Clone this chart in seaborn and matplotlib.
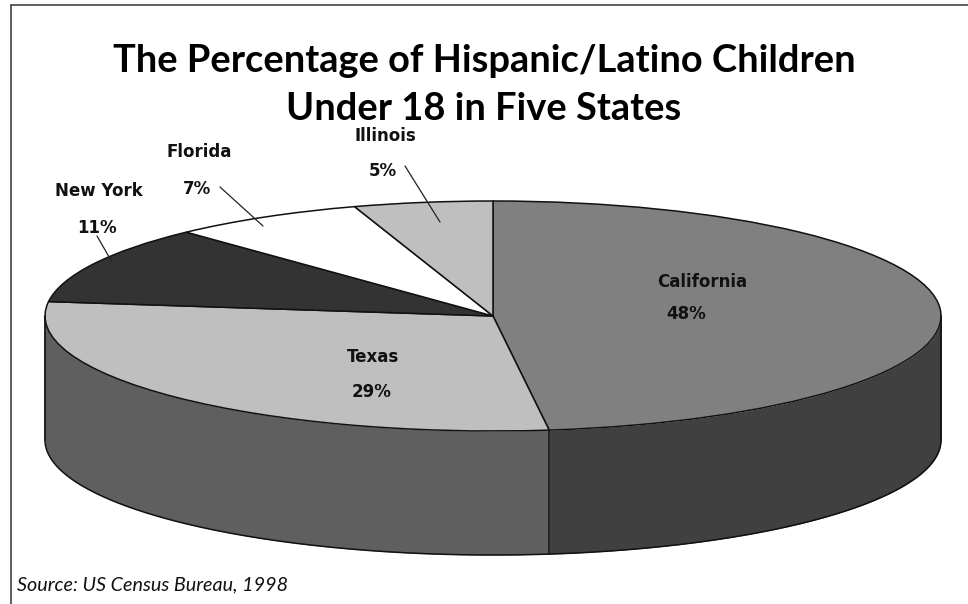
import numpy as np
import matplotlib
matplotlib.use("Agg")
import matplotlib.pyplot as plt
from matplotlib.lines import Line2D
import seaborn as sns

# ---- data ----
states = ["California", "Texas", "New York", "Florida", "Illinois"]
percents = [48, 29, 11, 7, 5]
top_colors = ["#808080", "#bfbfbf", "#333333", "#ffffff", "#bfbfbf"]
wall_colors = ["#404040", "#5f5f5f"]
title_lines = "The Percentage of Hispanic/Latino Children\nUnder 18 in Five States"
source_text = "Source: US Census Bureau, 1998"

W, H = 968, 604
CX, CY, RX, RY = 493, 316, 448, 115   # pie ellipse, in pixels
DEPTH = 124

sns.set_theme(style="white")
plt.rcParams["font.family"] = ["Lato", "DejaVu Sans"]

fig = plt.figure(figsize=(W / 100, H / 100), dpi=100, facecolor="white")
ax = fig.add_axes([0, 0, 1, 1])
palette = sns.color_palette(top_colors)

ax.pie(percents, colors=palette, startangle=90, counterclock=False, radius=1,
       wedgeprops=dict(edgecolor="#111111", linewidth=1.1, zorder=3))
ax.set_aspect("auto")
ax.set_xlim(-CX / RX, (W - CX) / RX)
ax.set_ylim((CY - H) / RY, CY / RY)
ax.axis("off")

# wall below the visible rim, split where the slices end
depth = DEPTH / RY
ends = 90 - np.cumsum(percents) / np.sum(percents) * 360
spans = [(ends[0], 0), (-180, ends[0])]
for (a, b), col in zip(spans, wall_colors):
    t = np.radians(np.linspace(a, b, 200))
    x, y = np.cos(t), np.sin(t)
    ax.fill_between(x, y, y - depth, color=col, lw=0, zorder=2)
    ax.plot(x, y - depth, color="#111111", lw=1.1, zorder=4)
tb = np.radians(ends[0])
ax.plot([np.cos(tb)] * 2, [np.sin(tb), np.sin(tb) - depth], color="#111111", lw=1.1, zorder=4)
for side in (-1, 1):
    ax.plot([side, side], [0, -depth], color="#111111", lw=1.3, zorder=4)

def fx(px):
    return px / W

def fy(py):
    return 1 - py / H

# frame of the picture (left and top only reach the edges)
for xs, ys in [((11, 11), (5, H)), ((11, W), (5, 5))]:
    fig.add_artist(Line2D([fx(v) for v in xs], [fy(v) for v in ys], color="#333333", lw=1.1))

# title and source
fig.text(fx(484), fy(85), title_lines, ha="center", va="center", fontsize=27.4,
         fontweight="bold", color="black", linespacing=1.47)
fig.text(fx(17), fy(590), source_text, ha="left", va="baseline", fontsize=14.2,
         fontstyle="italic", color="#111111")

# slice labels
label_font = dict(family="DejaVu Sans", fontweight="bold", fontsize=12, color="#111111",
                  ha="center", va="center")
label_places = [
    ("California", 702, 282), ("48%", 686, 314),
    ("Texas", 373, 357), ("29%", 372, 392),
    ("New York", 99, 191), ("11%", 97, 228),
    ("Florida", 199, 152), ("7%", 197, 189),
    ("Illinois", 385, 136), ("5%", 383, 171),
]
for txt, px, py in label_places:
    fig.text(fx(px), fy(py), txt, **label_font)

# leader lines
leaders = [((97, 236), (112, 262)), ((220, 187), (263, 226)), ((405, 166), (440, 222))]
for (x0, y0), (x1, y1) in leaders:
    fig.add_artist(Line2D([fx(x0), fx(x1)], [fy(y0), fy(y1)], color="#222222", lw=0.9))

fig.savefig("out.png", dpi=100)
